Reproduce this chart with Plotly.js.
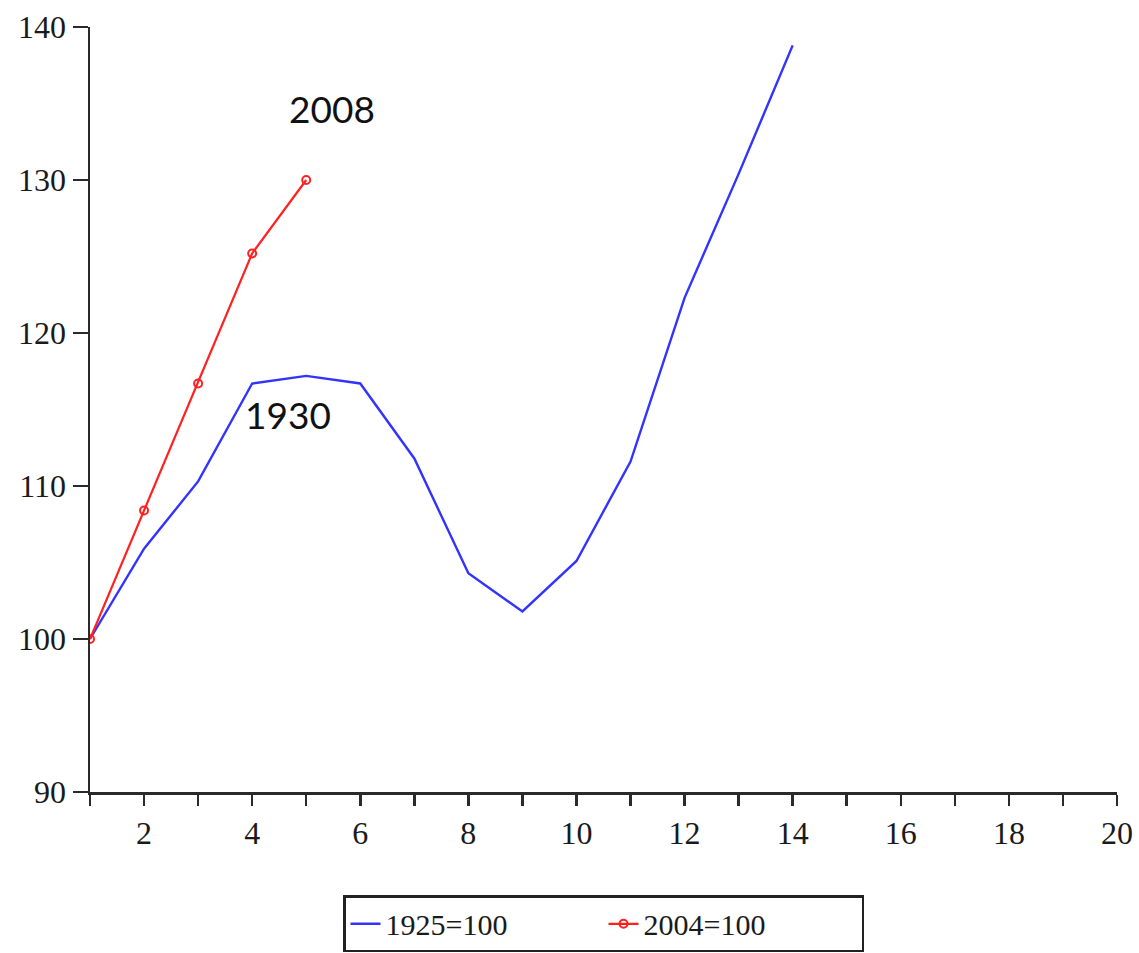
<!DOCTYPE html>
<html>
<head>
<meta charset="utf-8">
<script src="https://cdn.plot.ly/plotly-3.0.1.min.js"></script>
<style>html,body{margin:0;padding:0;background:#fff;}#chart{width:1139px;height:953px;}</style>
</head>
<body>
<div id="chart"></div>
<script>
const xBlue = [1, 2, 3, 4, 5, 6, 7, 8, 9, 10, 11, 12, 13, 14];
const yBlue = [100, 105.9, 110.3, 116.7, 117.2, 116.7, 111.8, 104.3, 101.8, 105.1, 111.6, 122.3, 130.4, 138.8];
const xRed = [1, 2, 3, 4, 5];
const yRed = [100, 108.4, 116.7, 125.2, 130.0];
const nameBlue = "1925=100";
const nameRed = "2004=100";
const xTickVals = [2, 4, 6, 8, 10, 12, 14, 16, 18, 20];
const yTickVals = [90, 100, 110, 120, 130, 140];
const labels = [{text: "2008", x: 5.47, y: 134.7}, {text: "1930", x: 4.66, y: 114.7}];

const traces = [
  {x: xBlue, y: yBlue, name: nameBlue, type: 'scatter', mode: 'lines',
   line: {color: '#3333ff', width: 2.4}},
  {x: xRed, y: yRed, name: nameRed, type: 'scatter', mode: 'lines+markers',
   line: {color: '#ff2020', width: 2.2},
   marker: {symbol: 'circle-open', size: 8, color: '#ff2020', line: {width: 2, color: '#ff2020'}}}
];

const layout = {
  width: 1139, height: 953,
  margin: {l: 90, r: 22, t: 27, b: 161, autoexpand: false},
  paper_bgcolor: '#fff', plot_bgcolor: '#fff',
  showlegend: true,
  font: {family: 'Liberation Serif, Times New Roman, serif', color: '#1a1a1a', size: 32},
  xaxis: {
    range: [1, 20], showgrid: false, zeroline: false, automargin: false,
    showline: true, linecolor: '#2a2a2a', linewidth: 2.5,
    ticks: 'outside', ticklen: 11, tickwidth: 2.5, tickcolor: '#2a2a2a',
    tickvals: xTickVals, ticktext: xTickVals.map(String),
    tickfont: {family: 'Liberation Serif, serif', size: 32, color: '#1a1a1a'},
    minor: {tickvals: [1, 3, 5, 7, 9, 11, 13, 15, 17, 19], ticks: 'outside', ticklen: 11, tickwidth: 2.5, tickcolor: '#2a2a2a'}
  },
  yaxis: {
    range: [90, 140], showgrid: false, zeroline: false, automargin: false,
    showline: true, linecolor: '#2a2a2a', linewidth: 2.5,
    ticks: 'outside', ticklen: 15, tickwidth: 2.5, tickcolor: '#2a2a2a',
    tickvals: yTickVals, ticktext: yTickVals.map(String),
    tickfont: {family: 'Liberation Serif, serif', size: 32, color: '#1a1a1a'}
  },
  legend: {
    orientation: 'h', x: 0.5, xanchor: 'center', y: -0.135, yanchor: 'top',
    bordercolor: '#222', borderwidth: 2.5, bgcolor: '#fff',
    font: {family: 'Liberation Serif, serif', size: 30, color: '#1a1a1a'},
    entrywidth: 213, entrywidthmode: 'pixels'
  },
  annotations: labels.map(l => ({
    x: l.x, y: l.y, xref: 'x', yref: 'y', text: l.text, showarrow: false,
    font: {family: 'Lato, sans-serif', size: 37, color: '#111'}
  }))
};

Plotly.newPlot('chart', traces, layout, {displayModeBar: false, staticPlot: true});
</script>
</body>
</html>
